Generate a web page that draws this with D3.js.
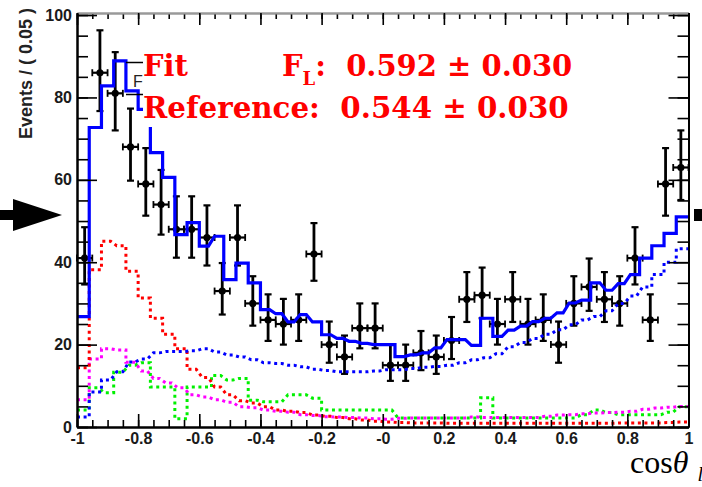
<!DOCTYPE html>
<html><head><meta charset="utf-8">
<script src="https://cdn.jsdelivr.net/npm/d3@7"></script>
<style>body{margin:0;background:#fff}svg{display:block}</style>
</head><body>
<svg id="c" width="702" height="487"></svg>
<script>
// Events per 0.05 bin of cos(theta), 40 bins from -1 to 1
const counts = [41,86,81,68,59,54,48,48,46,33,46,30,26,25,26,42,20,17,24,24,15,15,18,17,21,31,32,25,31,25,26,20,30,34,31,30,41,26,59,63];
const errHi  = [7.5,10.3,10.0,9.3,8.7,8.4,8.0,8.0,7.8,6.8,7.8,6.6,6.2,6.1,6.2,7.5,5.6,5.2,6.0,6.0,5.0,5.0,5.3,5.2,5.7,6.6,6.7,6.1,6.6,6.1,6.2,5.6,6.6,6.9,6.6,6.6,7.5,6.2,8.7,9.0];
const errLo  = [6.4,9.3,9.0,8.2,7.7,7.3,6.9,6.9,6.8,5.7,6.8,5.4,5.1,5.0,5.1,6.5,4.4,4.1,4.9,4.9,3.8,3.8,4.2,4.1,4.5,5.5,5.6,5.0,5.5,5.0,5.1,4.4,5.4,5.8,5.5,5.4,6.4,5.1,7.7,7.9];

// Fit projections, 50 bins of width 0.04, scaled to events / 0.05
const fitTotal  = [26.8,72.7,82.8,88.9,81.6,77.1,66.6,60.6,46.7,49.6,43.9,46.3,35.8,39.8,35.0,28.5,27.5,25.5,27.3,25.5,22.4,21.5,20.8,20.3,20.0,20.0,17.1,17.5,18.0,19.2,21.2,21.2,19.8,26.4,22.0,23.5,24.5,25.6,26.4,27.7,30.1,30.8,35.0,33.2,34.8,37.0,41.0,44.0,47.0,51.0];
const fitBlue   = [2.4,8.5,11.4,13.4,15.8,16.5,18.0,18.3,18.3,18.5,19.0,18.2,17.5,17.0,16.3,15.6,15.4,15.0,14.6,14.0,13.7,13.4,13.4,13.4,13.6,13.9,13.9,14.2,14.5,14.7,15.0,15.6,16.3,16.8,17.8,19.5,20.5,21.5,22.5,23.6,24.8,26.0,26.8,28.2,30.0,31.8,34.0,37.0,40.0,43.3];
const fitRed    = [14.4,38.2,45.1,44.0,37.8,31.3,26.4,22.5,19.0,14.0,12.0,9.7,7.8,6.4,5.8,4.9,4.1,3.8,3.5,2.9,2.6,2.3,2.0,1.7,1.4,1.2,1.1,1.0,1.0,1.0,0.9,0.9,0.9,0.9,0.9,0.9,0.9,0.9,0.9,0.9,0.9,0.9,0.9,0.9,1.0,1.0,1.0,1.0,1.1,1.2];
const fitMagenta= [6.6,16.5,19.0,18.7,15.7,13.6,11.8,10.7,9.5,7.8,7.3,6.6,6.0,4.9,4.7,4.1,3.8,3.6,3.0,2.8,2.5,2.4,2.3,2.2,2.0,1.9,2.1,2.2,2.2,2.2,2.2,2.2,2.4,2.3,2.3,2.3,2.3,2.3,2.6,2.9,3.0,3.2,3.4,3.5,3.6,3.8,4.3,4.6,4.8,5.0];
const fitGreen  = [4.1,9.5,8.3,13.3,15.0,15.6,9.7,9.7,2.0,9.7,9.7,12.5,11.4,11.8,6.5,6.1,6.1,7.8,7.8,7.0,4.1,4.1,4.1,4.1,4.1,4.1,2.2,2.2,2.2,2.2,2.2,2.2,2.2,7.1,2.2,2.2,2.2,2.2,2.2,2.2,2.2,3.0,4.1,3.5,3.0,3.0,3.0,3.0,3.6,4.9];

const xTickValues = [-1,-0.8,-0.6,-0.4,-0.2,0,0.2,0.4,0.6,0.8,1];
const xTickLabels = ["-1","-0.8","-0.6","-0.4","-0.2","-0","0.2","0.4","0.6","0.8","1"];
const yTickValues = [0,20,40,60,80,100];
const yTickLabels = ["0","20","40","60","80","100"];

const svg = d3.select("#c");
const x = d3.scaleLinear().domain([-1, 1]).range([77, 688.5]);
const y = d3.scaleLinear().domain([0, 100.5]).range([427, 13]);

const dataBinW = 0.05, fitBinW = 0.04;

// ---- fit curves (step histograms, small steps drawn as short ramps)
function curvePoints(vals) {
  const pts = [];
  const n = vals.length;
  for (let k = 0; k < n; k++) {
    const x0 = -1 + k * fitBinW, x1 = x0 + fitBinW;
    const prev = k > 0 ? vals[k-1] : null, next = k < n-1 ? vals[k+1] : null;
    const rampIn  = prev !== null && Math.abs(y(vals[k]) - y(prev)) < 10 ? 0.01 : 0;
    const rampOut = next !== null && Math.abs(y(vals[k]) - y(next)) < 10 ? 0.01 : 0;
    pts.push([x0 + rampIn, vals[k]]);
    pts.push([x1 - rampOut, vals[k]]);
  }
  return pts;
}
const line = d3.line().x(d => x(d[0])).y(d => y(d[1]));

// ---- data points with error bars
const gData = svg.append("g");
counts.forEach((c, i) => {
  const xc = -1 + (i + 0.5) * dataBinW;
  const px = x(xc), py = y(c);
  const yt = y(c + errHi[i]), yb = y(c - errLo[i]);
  const xl = x(xc - dataBinW/2), xr = x(xc + dataBinW/2);
  const g = gData.append("g").attr("stroke", "#000").attr("fill", "#000");
  g.append("line").attr("x1", px).attr("x2", px).attr("y1", yt).attr("y2", yb).attr("stroke-width", 2.8);
  g.append("line").attr("x1", px-3.5).attr("x2", px+3.5).attr("y1", yt).attr("y2", yt).attr("stroke-width", 2.2);
  g.append("line").attr("x1", px-3.5).attr("x2", px+3.5).attr("y1", yb).attr("y2", yb).attr("stroke-width", 2.2);
  g.append("line").attr("x1", xl).attr("x2", xr).attr("y1", py).attr("y2", py).attr("stroke-width", 2.2);
  g.append("line").attr("x1", xl).attr("x2", xl).attr("y1", py-3.5).attr("y2", py+3.5).attr("stroke-width", 1.8);
  g.append("line").attr("x1", xr).attr("x2", xr).attr("y1", py-3.5).attr("y2", py+3.5).attr("stroke-width", 1.8);
  g.append("circle").attr("cx", px).attr("cy", py).attr("r", 3.6).attr("stroke", "none");
});

const gFit = svg.append("g").attr("fill", "none");
const dotted = [
  [fitGreen, "#00f000"],
  [fitMagenta, "#ff00ff"],
  [fitRed, "#ff0000"],
  [fitBlue, "#0000ff"]
];
dotted.forEach(([vals, col]) => {
  gFit.append("path").attr("d", line(curvePoints(vals)))
    .attr("stroke", col).attr("stroke-width", 3).attr("stroke-dasharray", "3,3.6");
});
gFit.append("path").attr("d", line(curvePoints(fitTotal)))
  .attr("stroke", "#0000ff").attr("stroke-width", 3.2).attr("stroke-linejoin", "miter");

// ---- axes
function styleAxis(g, col) {
  g.selectAll(".domain").attr("stroke", col).attr("stroke-width", 2);
  g.selectAll(".tick line").attr("stroke", "#000").attr("stroke-width", 1.6);
}
const minorX = d3.range(-1, 1.0001, 0.05).map(v => +v.toFixed(2));
const minorY = d3.range(0, 100.1, 5);

// bottom
const gb = svg.append("g").attr("transform", "translate(0,427)");
gb.call(d3.axisBottom(x).tickValues(minorX).tickSize(-7).tickSizeOuter(0).tickFormat(""));
gb.call(g => styleAxis(g, "#000"));
const gb2 = svg.append("g").attr("transform", "translate(0,427)");
gb2.call(d3.axisBottom(x).tickValues(xTickValues).tickSize(-13).tickSizeOuter(0).tickPadding(6)
  .tickFormat((d, i) => xTickLabels[i]));
gb2.call(g => styleAxis(g, "#000"));
gb2.selectAll("text").attr("font-family", "Liberation Sans, Arial, sans-serif").attr("font-weight", "bold")
  .attr("font-size", 16).attr("fill", "#1a1a1a");

// top
const gt = svg.append("g").attr("transform", "translate(0,13)");
gt.call(d3.axisTop(x).tickValues(minorX).tickSize(-6).tickSizeOuter(0).tickFormat(""));
gt.call(g => styleAxis(g, "#999"));
const gt2 = svg.append("g").attr("transform", "translate(0,13)");
gt2.call(d3.axisTop(x).tickValues(xTickValues).tickSize(-12).tickSizeOuter(0).tickFormat(""));
gt2.call(g => styleAxis(g, "#999"));

// left
const gl = svg.append("g").attr("transform", "translate(77,0)");
gl.call(d3.axisLeft(y).tickValues(minorY).tickSize(-11).tickSizeOuter(0).tickFormat(""));
gl.call(g => styleAxis(g, "#000"));
const gl2 = svg.append("g").attr("transform", "translate(77,0)");
gl2.call(d3.axisLeft(y).tickValues(yTickValues).tickSize(-20).tickSizeOuter(0).tickPadding(5)
  .tickFormat((d, i) => yTickLabels[i]));
gl2.call(g => styleAxis(g, "#000"));
gl2.selectAll("text").attr("font-family", "Liberation Sans, Arial, sans-serif").attr("font-weight", "bold")
  .attr("font-size", 16).attr("fill", "#1a1a1a");

// right
const gr = svg.append("g").attr("transform", "translate(688.5,0)");
gr.call(d3.axisRight(y).tickValues(minorY).tickSize(-11).tickSizeOuter(0).tickFormat(""));
gr.call(g => styleAxis(g, "#000"));
const gr2 = svg.append("g").attr("transform", "translate(688.5,0)");
gr2.call(d3.axisRight(y).tickValues(yTickValues).tickSize(-20).tickSizeOuter(0).tickFormat(""));
gr2.call(g => styleAxis(g, "#000"));

// axis titles
svg.append("text").attr("transform", "translate(32,8) rotate(-90)")
  .attr("text-anchor", "end").attr("font-family", "Liberation Sans, Arial, sans-serif")
  .attr("font-weight", "bold").attr("font-size", 18).attr("fill", "#222")
  .text("Events / ( 0.05 )");

const xt = svg.append("text").attr("x", 630).attr("y", 473)
  .attr("font-family", "Liberation Serif, serif").attr("font-size", 32).attr("fill", "#000");
xt.append("tspan").text("cos");
xt.append("tspan").attr("font-style", "italic").text("θ");
xt.append("tspan").attr("font-size", 20).attr("dx", 9).attr("dy", 8).attr("font-style", "italic").text("l");

// partly hidden legend behind the fit summary
svg.append("line").attr("x1", 126).attr("x2", 143).attr("y1", 62.5).attr("y2", 62.5).attr("stroke", "#000").attr("stroke-width", 1.5);
svg.append("line").attr("x1", 126).attr("x2", 143).attr("y1", 94.5).attr("y2", 94.5).attr("stroke", "#000").attr("stroke-width", 1.5);
svg.append("text").attr("x", 133).attr("y", 87).attr("font-family", "Liberation Sans, Arial, sans-serif")
  .attr("font-size", 16).attr("fill", "#222").text("F");

// fit summary box
svg.append("rect").attr("x", 143).attr("y", 50).attr("width", 440).attr("height", 77).attr("fill", "#fff");
const redFont = "DejaVu Serif, serif";
const t1 = svg.append("text").attr("y", 76).attr("font-family", redFont).attr("font-weight", "bold")
  .attr("font-size", 29).attr("fill", "#ff0000").attr("xml:space", "preserve");
t1.append("tspan").attr("x", 143).text("Fit");
t1.append("tspan").attr("x", 282).text("F");
t1.append("tspan").attr("font-size", 18).attr("dy", 9).text("L");
t1.append("tspan").attr("dy", -9).text(":  0.592 ± 0.030");
svg.append("text").attr("x", 143).attr("y", 118).attr("font-family", redFont).attr("font-weight", "bold")
  .attr("font-size", 29.3).attr("fill", "#ff0000").attr("xml:space", "preserve")
  .text("Reference:  0.544 ± 0.030");

// side markers
svg.append("path").attr("d", "M0,210H13V199L62,215L13,231V220H0Z").attr("fill", "#000");
svg.append("rect").attr("x", 694).attr("y", 209).attr("width", 8).attr("height", 12).attr("fill", "#000");
</script>
</body></html>
